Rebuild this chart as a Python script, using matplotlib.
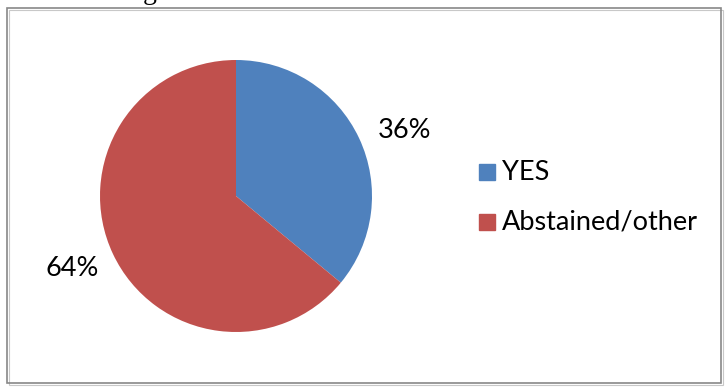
import matplotlib.pyplot as plt
from matplotlib.patches import Rectangle

labels = ['YES', 'Abstained/other']
shares = [36, 64]
colors = ['#4F81BD', '#C0504D']

W, H = 726, 390
fig = plt.figure(figsize=(W / 100, H / 100), dpi=100)
plt.rcParams['font.family'] = ['Lato', 'DejaVu Sans']

# background canvas in pixel coordinates
bg = fig.add_axes([0, 0, 1, 1])
bg.set_xlim(0, W)
bg.set_ylim(H, 0)
bg.axis('off')
bg.add_patch(Rectangle((7, 8), 714, 375, fill=False, edgecolor='#888888', lw=1.2))
bg.add_patch(Rectangle((9, 10), 714, 375, fill=False, edgecolor='#c8c8c8', lw=0.8, zorder=0))
# tail of a caption line cut off above the chart
bg.text(150, -1, 'g', fontsize=20, ha='center', va='baseline', family='Liberation Serif', clip_on=True)

# pie: centre (236, 196), radius ~136 px
cx, cy, r = 236, 196, 136
ax = fig.add_axes([(cx - r) / W, 1 - (cy + r) / H, 2 * r / W, 2 * r / H])
ax.pie(shares, colors=colors, startangle=90, counterclock=False,
       wedgeprops=dict(linewidth=0))
ax.set_aspect('auto')
ax.set_xlim(-1, 1)
ax.set_ylim(-1, 1)

fs = 19.5
bg.text(405, 130, f'{shares[0]}%', fontsize=fs, ha='center', va='center')
bg.text(72, 268, f'{shares[1]}%', fontsize=fs, ha='center', va='center')

# legend
for i, (lab, c) in enumerate(zip(labels, colors)):
    y = 172 + i * 50
    bg.add_patch(Rectangle((479, y - 8), 16, 16, color=c))
    bg.text(502, y, lab, fontsize=fs, ha='left', va='center')

fig.savefig('out.png', dpi=100)
